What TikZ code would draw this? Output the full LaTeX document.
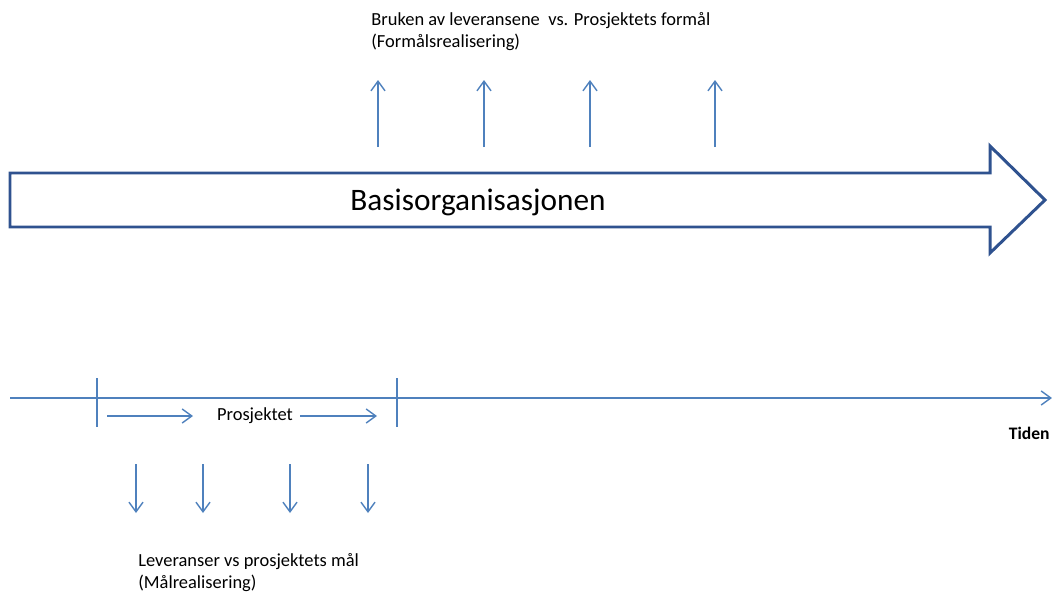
\documentclass[tikz,border=0pt]{standalone}
\usepackage{fontspec}
\setmainfont{Carlito}
\usetikzlibrary{arrows.meta}
\definecolor{darkline}{RGB}{47,82,143}
\definecolor{lightline}{RGB}{79,129,189}
\begin{document}
\begin{tikzpicture}[x=0.02cm, y=-0.02cm,
  thin arrow/.style={draw=lightline, line width=0.8pt, -{Straight Barb[length=5.5pt, width=8pt]}},
  thin line/.style={draw=lightline, line width=0.8pt},
  label text/.style={font=\fontsize{10.5}{12.6}\selectfont, inner sep=0pt, align=left}]
\useasboundingbox (0,0) rectangle (1052,592);
% basisorganisasjonen
\draw[darkline, line width=1.7pt, fill=white, line join=miter]
  (10,173) -- (990,173) -- (990,146) -- (1045,200) -- (990,253) -- (990,227) -- (10,227) -- cycle;
\node[font=\fontsize{17.8}{21}\selectfont] (basis) at (478,202) {Basisorganisasjonen};
\begin{scope}[every node/.style={label text}]
\node[anchor=north west] (formaal) at (371,12) {Bruken av leveransene\ \ vs. Prosjektets formål\\(Formålsrealisering)};
\node[anchor=north west] (maal) at (138,553) {Leveranser vs prosjektets mål\\(Målrealisering)};
\node (prosjekt) at (255,416) {Prosjektet};
\node[anchor=north east, font=\fontsize{10}{12}\selectfont\bfseries] (tiden) at (1050,427) {Tiden};
\end{scope}
% tidslinje
\coordinate (t0) at (10,398);
\coordinate (t1) at (1052,398);
\coordinate (start top) at (97,378);
\coordinate (start bot) at (97,427);
\coordinate (slutt top) at (397,378);
\coordinate (slutt bot) at (397,427);
\coordinate (p0) at (107,416);
\coordinate (p1) at (193,416);
\coordinate (p2) at (300,416);
\coordinate (p3) at (377,416);
\begin{scope}
\draw[thin arrow] (t0) -- (t1);
\draw[thin line] (start top) -- (start bot);
\draw[thin line] (slutt top) -- (slutt bot);
\draw[thin arrow] (p0) -- (p1);
\draw[thin arrow] (p2) -- (p3);
\end{scope}
% formaal pilene
\foreach \x [count=\i] in {378,484,590,715}{
  \coordinate (up\i a) at (\x,147);
  \coordinate (up\i b) at (\x,80);
  \draw[thin arrow] (up\i a) -- (up\i b);
}
% maal pilene
\foreach \x [count=\i] in {136,203,290,368}{
  \coordinate (dn\i a) at (\x,464);
  \coordinate (dn\i b) at (\x,513);
  \draw[thin arrow] (dn\i a) -- (dn\i b);
}
\end{tikzpicture}
\end{document}
